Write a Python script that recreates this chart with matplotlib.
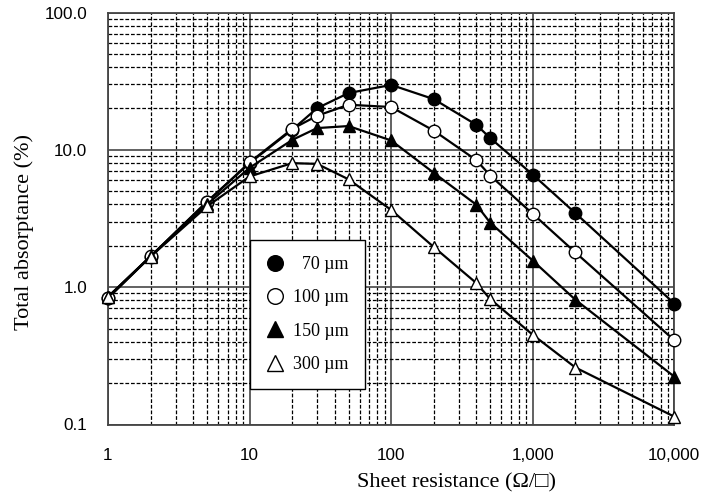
import matplotlib.pyplot as plt
import matplotlib.ticker as mticker
import numpy as np

sheet_res = [1, 2, 5, 10, 20, 30, 50, 100, 200, 400, 500, 1000, 2000, 10000]
abs_70 = [0.83, 1.67, 4.2, 8.0, 14.0, 20.1, 25.9, 29.7, 23.4, 15.2, 12.2, 6.6, 3.46, 0.76]
abs_100 = [0.84, 1.68, 4.15, 8.1, 14.2, 17.7, 21.3, 20.5, 13.8, 8.4, 6.5, 3.42, 1.79, 0.41]
abs_150 = [0.85, 1.68, 4.0, 7.4, 11.8, 14.4, 14.9, 11.7, 6.8, 3.98, 2.95, 1.56, 0.81, 0.223]
abs_300 = [0.85, 1.67, 3.87, 6.4, 8.0, 7.9, 6.1, 3.65, 1.96, 1.07, 0.82, 0.45, 0.26, 0.114]

series = [
    (abs_70, "o", "black", "  70 \u00b5m"),
    (abs_100, "o", "white", "100 \u00b5m"),
    (abs_150, "^", "black", "150 \u00b5m"),
    (abs_300, "^", "white", "300 \u00b5m"),
]

fig = plt.figure(figsize=(7.01, 5.0), dpi=100)
ax = fig.add_axes([0.154, 0.151, 0.808, 0.824])

for vals, mk, fc, lab in series:
    ax.plot(sheet_res, vals, color="black", lw=1.6, marker=mk, ms=9,
            markerfacecolor=fc, markeredgecolor="black", markeredgewidth=1.0,
            label=lab, zorder=3, clip_on=False)

ax.set_xscale("log")
ax.set_yscale("log")
ax.set_xlim(1, 10000)
ax.set_ylim(0.1, 100)

ax.xaxis.set_major_locator(mticker.FixedLocator([1, 10, 100, 1000, 10000]))
ax.yaxis.set_major_locator(mticker.FixedLocator([0.1, 1, 10, 100]))
ax.xaxis.set_minor_locator(mticker.LogLocator(base=10, subs=np.arange(2, 10)))
ax.yaxis.set_minor_locator(mticker.LogLocator(base=10, subs=np.arange(2, 10)))
ax.xaxis.set_minor_formatter(mticker.NullFormatter())
ax.yaxis.set_minor_formatter(mticker.NullFormatter())
ax.set_xticklabels(["1", "10", "100", "1,000", "10,000"])
ax.set_yticklabels(["0.1", "1.0", "10.0", "100.0"])

ax.grid(which="major", color="#555555", lw=1.3, ls="-", zorder=1)
ax.grid(which="minor", color="black", lw=0.9, ls=(0, (3, 1.5)), zorder=1)
ax.set_axisbelow(True)
ax.tick_params(which="both", length=0, labelsize=12.3)
ax.tick_params(axis="y", pad=15)
ax.tick_params(axis="x", pad=17)
for lbl in ax.get_xticklabels() + ax.get_yticklabels():
    lbl.set_family("Liberation Sans")
for sp in ax.spines.values():
    sp.set_color("#444444")
    sp.set_linewidth(1.3)

ax.set_xlabel("Sheet resistance (\u03a9/\u25a1)", family=["Liberation Serif", "DejaVu Sans"], fontsize=16)
ax.set_ylabel("Total absorptance (%)", family="Liberation Serif", fontsize=16)
ax.xaxis.set_label_coords(0.615, -0.118)
ax.yaxis.set_label_coords(-0.131, 0.467)

leg = ax.legend(loc="upper left", bbox_to_anchor=(0.2509, 0.448), frameon=True,
                fancybox=False, edgecolor="black", framealpha=1,
                prop={"family": "Liberation Serif", "size": 13},
                handlelength=1.0, handletextpad=0.5, labelspacing=0.9,
                borderpad=0.9, borderaxespad=0, markerscale=1.25)
leg.get_frame().set_linewidth(1.0)
for h in leg.get_lines():
    h.set_linestyle("none")
leg.set_zorder(5)

fig.savefig("out.png", dpi=100)
